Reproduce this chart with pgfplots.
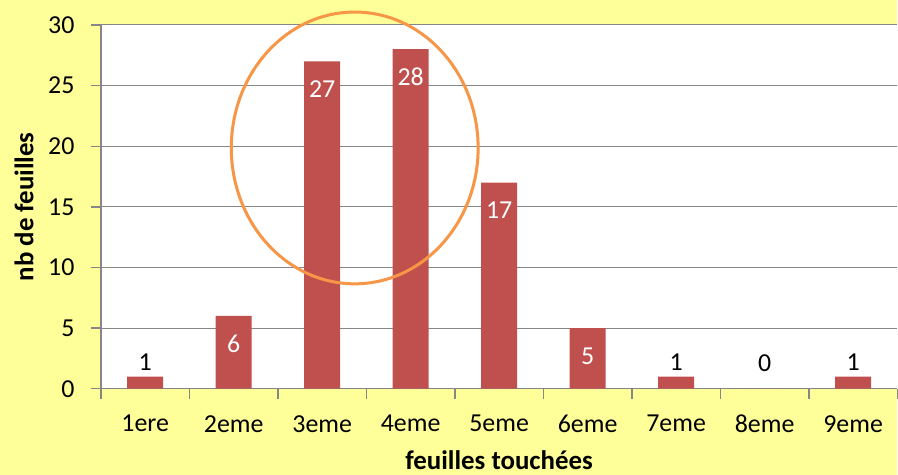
\documentclass[border=0pt]{standalone}
\usepackage{fontspec}
\setmainfont{Carlito}
\usepackage{pgfplots}
\pgfplotsset{compat=1.18}
\definecolor{bgy}{HTML}{FFFF99}
\definecolor{barred}{HTML}{C0504D}
\definecolor{circ}{HTML}{F79646}
\definecolor{gridg}{HTML}{868686}
\begin{document}
\begin{tikzpicture}
\fill[bgy] (-101bp,-86bp) rectangle (797bp,389bp);
\begin{axis}[
  scale only axis, width=797bp, height=364bp,
  xmin=-0.5, xmax=8.5, ymin=0, ymax=30,
  axis background/.style={fill=white},
  axis x line=bottom, axis y line=left,
  axis line style={gridg, line width=1.3bp, -},
  ytick={0,5,...,30},
  ymajorgrids, grid style={gridg, line width=1bp},
  xtick={0,...,8},
  xticklabels={1ere,2eme,3eme,4eme,5eme,6eme,7eme,8eme,9eme},
  minor xtick={-0.5,0.5,...,8.5},
  major x tick style={draw=none},
  minor x tick style={draw=gridg, line width=1.3bp},
  major y tick style={draw=gridg, line width=1.3bp},
  tick align=outside, major tick length=10bp, minor tick length=10bp,
  /pgf/number format/assume math mode=true,
  tick label style={font=\fontsize{26}{31}\selectfont, black},
  xticklabel style={yshift=-13bp},
  yticklabel style={xshift=-13bp},
  xlabel={\bfseries feuilles touchées},
  ylabel={\bfseries nb de feuilles},
  label style={font=\fontsize{27}{32}\selectfont},
  xlabel style={at={(axis description cs:0.5,0)}, anchor=center, inner sep=0pt, yshift=-71bp},
  ylabel style={at={(axis description cs:0,0.5)}, anchor=center, yshift=77bp},
  clip=false,
]
\addplot[ybar, bar width=36bp, fill=barred, draw=none]
  coordinates {(0,1) (1,6) (2,27) (3,28) (4,17) (5,5) (6,1) (7,0) (8,1)};
\addplot[draw=none, mark=none, forget plot,
  nodes near coords,
  every node near coord/.style={white, anchor=center, yshift=-28bp, font=\fontsize{26}{31}\selectfont}]
  coordinates {(1,6) (2,27) (3,28) (4,17) (5,5)};
\addplot[draw=none, mark=none, forget plot,
  nodes near coords,
  every node near coord/.style={black, anchor=center, yshift=14bp, font=\fontsize{26}{31}\selectfont}]
  coordinates {(0,1) (6,1) (8,1)};
\addplot[draw=none, mark=none, forget plot,
  nodes near coords,
  every node near coord/.style={black, anchor=center, yshift=26bp, font=\fontsize{26}{31}\selectfont}]
  coordinates {(7,0)};
\draw[circ, line width=3bp] (axis cs:2.368,19.86) ellipse [x radius=123.5bp, y radius=136bp];
\end{axis}
\end{tikzpicture}
\end{document}
